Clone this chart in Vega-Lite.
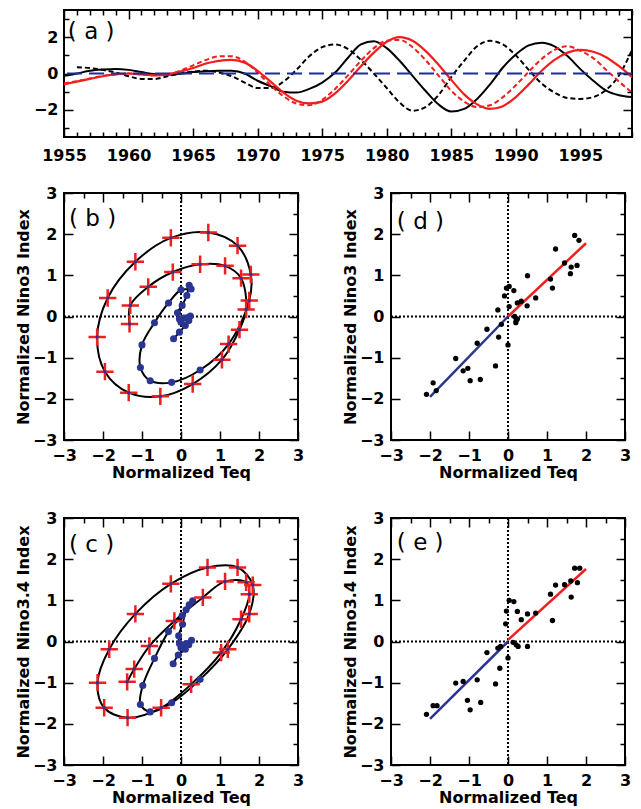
{
  "$schema": "https://vega.github.io/schema/vega-lite/v6.json",
  "background": "white",
  "padding": {"left": 0, "top": 8, "right": 2, "bottom": 2},
  "columns": 1,
  "spacing": 16,
  "align": "none",
  "config": {
    "font": "DejaVu Sans",
    "view": {"stroke": "black", "strokeWidth": 2},
    "axis": {
      "grid": false, "domain": false, "ticks": true, "tickColor": "black", "tickWidth": 1.5,
      "labelFont": "DejaVu Sans", "labelFontSize": 16, "labelFontWeight": "bold", "labelColor": "black",
      "titleFont": "DejaVu Sans", "titleFontSize": 16, "titleFontWeight": "bold", "titleColor": "black",
      "labelOverlap": false, "labelFlush": false, "labelPadding": 16, "minExtent": 1
    },
    "axisLeft": {"minExtent": 63, "titleX": -33}
  },
  "datasets": {
    "ts": [
      {"year": 1955, "teq": -0.13, "teq_dashed": null, "nino3": -0.6, "nino34": -0.55},
      {"year": 1956, "teq": 0.0, "teq_dashed": 0.35, "nino3": -0.45, "nino34": -0.42},
      {"year": 1957, "teq": 0.15, "teq_dashed": 0.3, "nino3": -0.3, "nino34": -0.28},
      {"year": 1958, "teq": 0.22, "teq_dashed": 0.2, "nino3": -0.15, "nino34": -0.13},
      {"year": 1959, "teq": 0.25, "teq_dashed": 0.05, "nino3": -0.05, "nino34": -0.05},
      {"year": 1960, "teq": 0.2, "teq_dashed": -0.15, "nino3": 0.0, "nino34": 0.0},
      {"year": 1961, "teq": 0.08, "teq_dashed": -0.3, "nino3": -0.05, "nino34": -0.05},
      {"year": 1962, "teq": -0.03, "teq_dashed": -0.3, "nino3": -0.1, "nino34": -0.1},
      {"year": 1963, "teq": -0.07, "teq_dashed": -0.15, "nino3": -0.05, "nino34": -0.05},
      {"year": 1964, "teq": -0.02, "teq_dashed": 0.0, "nino3": 0.1, "nino34": 0.15},
      {"year": 1965, "teq": 0.08, "teq_dashed": 0.1, "nino3": 0.3, "nino34": 0.45},
      {"year": 1966, "teq": 0.13, "teq_dashed": 0.15, "nino3": 0.55, "nino34": 0.75},
      {"year": 1967, "teq": 0.15, "teq_dashed": 0.05, "nino3": 0.7, "nino34": 0.95},
      {"year": 1968, "teq": 0.15, "teq_dashed": -0.15, "nino3": 0.75, "nino34": 0.95},
      {"year": 1969, "teq": 0.0, "teq_dashed": -0.5, "nino3": 0.6, "nino34": 0.65},
      {"year": 1970, "teq": -0.4, "teq_dashed": -0.8, "nino3": 0.15, "nino34": 0.05},
      {"year": 1971, "teq": -0.7, "teq_dashed": -0.8, "nino3": -0.45, "nino34": -0.65},
      {"year": 1972, "teq": -1.0, "teq_dashed": -0.45, "nino3": -1.05, "nino34": -1.25},
      {"year": 1973, "teq": -1.05, "teq_dashed": 0.2, "nino3": -1.5, "nino34": -1.65},
      {"year": 1974, "teq": -0.85, "teq_dashed": 0.95, "nino3": -1.65, "nino34": -1.75},
      {"year": 1975, "teq": -0.5, "teq_dashed": 1.45, "nino3": -1.55, "nino34": -1.45},
      {"year": 1976, "teq": 0.05, "teq_dashed": 1.6, "nino3": -1.1, "nino34": -0.85},
      {"year": 1977, "teq": 0.87, "teq_dashed": 1.35, "nino3": -0.4, "nino34": -0.1},
      {"year": 1978, "teq": 1.6, "teq_dashed": 0.75, "nino3": 0.4, "nino34": 0.7},
      {"year": 1979, "teq": 1.78, "teq_dashed": 0.0, "nino3": 1.15, "nino34": 1.4},
      {"year": 1980, "teq": 1.4, "teq_dashed": -0.8, "nino3": 1.75, "nino34": 1.8},
      {"year": 1981, "teq": 0.7, "teq_dashed": -1.6, "nino3": 2.0, "nino34": 1.85},
      {"year": 1982, "teq": -0.13, "teq_dashed": -2.05, "nino3": 1.8, "nino34": 1.45},
      {"year": 1983, "teq": -0.95, "teq_dashed": -1.85, "nino3": 1.25, "nino34": 0.75},
      {"year": 1984, "teq": -1.7, "teq_dashed": -1.2, "nino3": 0.5, "nino34": -0.1},
      {"year": 1985, "teq": -2.1, "teq_dashed": -0.2, "nino3": -0.35, "nino34": -0.95},
      {"year": 1986, "teq": -1.95, "teq_dashed": 0.7, "nino3": -1.15, "nino34": -1.55},
      {"year": 1987, "teq": -1.4, "teq_dashed": 1.5, "nino3": -1.7, "nino34": -1.85},
      {"year": 1988, "teq": -0.6, "teq_dashed": 1.8, "nino3": -1.95, "nino34": -1.75},
      {"year": 1989, "teq": 0.33, "teq_dashed": 1.6, "nino3": -1.8, "nino34": -1.3},
      {"year": 1990, "teq": 1.05, "teq_dashed": 1.0, "nino3": -1.3, "nino34": -0.65},
      {"year": 1991, "teq": 1.55, "teq_dashed": 0.2, "nino3": -0.6, "nino34": 0.1},
      {"year": 1992, "teq": 1.7, "teq_dashed": -0.55, "nino3": 0.15, "nino34": 0.8},
      {"year": 1993, "teq": 1.5, "teq_dashed": -1.05, "nino3": 0.75, "nino34": 1.3},
      {"year": 1994, "teq": 0.96, "teq_dashed": -1.35, "nino3": 1.15, "nino34": 1.5},
      {"year": 1995, "teq": 0.24, "teq_dashed": -1.4, "nino3": 1.3, "nino34": 1.25},
      {"year": 1996, "teq": -0.4, "teq_dashed": -1.3, "nino3": 1.2, "nino34": 0.85},
      {"year": 1997, "teq": -0.95, "teq_dashed": -0.9, "nino3": 0.9, "nino34": 0.2},
      {"year": 1998, "teq": -1.2, "teq_dashed": -0.1, "nino3": 0.4, "nino34": -0.45},
      {"year": 1999, "teq": -1.3, "teq_dashed": 1.3, "nino3": -0.2, "nino34": -1.05}
    ],
    "b": [
      {"year": 1955, "teq": -0.19, "nino3": -0.54}, {"year": 1956, "teq": -0.04, "nino3": -0.38},
      {"year": 1957, "teq": 0.11, "nino3": -0.22}, {"year": 1958, "teq": 0.2, "nino3": -0.1},
      {"year": 1959, "teq": 0.24, "nino3": 0.01}, {"year": 1960, "teq": 0.15, "nino3": -0.03},
      {"year": 1961, "teq": 0.07, "nino3": -0.04}, {"year": 1962, "teq": 0.0, "nino3": -0.14},
      {"year": 1963, "teq": -0.04, "nino3": -0.06}, {"year": 1964, "teq": -0.09, "nino3": 0.09},
      {"year": 1965, "teq": 0.03, "nino3": 0.27}, {"year": 1966, "teq": 0.15, "nino3": 0.51},
      {"year": 1967, "teq": 0.21, "nino3": 0.76}, {"year": 1968, "teq": 0.26, "nino3": 0.67},
      {"year": 1969, "teq": 0.0, "nino3": 0.65}, {"year": 1970, "teq": -0.32, "nino3": 0.33},
      {"year": 1971, "teq": -0.68, "nino3": -0.15}, {"year": 1972, "teq": -1.0, "nino3": -0.69},
      {"year": 1973, "teq": -1.04, "nino3": -1.24}, {"year": 1974, "teq": -0.79, "nino3": -1.56},
      {"year": 1975, "teq": -0.24, "nino3": -1.6}, {"year": 1976, "teq": 0.49, "nino3": -1.3},
      {"year": 1977, "teq": 1.22, "nino3": -0.67}, {"year": 1978, "teq": 1.75, "nino3": 0.39},
      {"year": 1979, "teq": 1.79, "nino3": 1.02}, {"year": 1980, "teq": 1.45, "nino3": 1.72},
      {"year": 1981, "teq": 0.7, "nino3": 2.04}, {"year": 1982, "teq": -0.26, "nino3": 1.91},
      {"year": 1983, "teq": -1.17, "nino3": 1.33}, {"year": 1984, "teq": -1.88, "nino3": 0.45},
      {"year": 1985, "teq": -2.15, "nino3": -0.5}, {"year": 1986, "teq": -1.95, "nino3": -1.34},
      {"year": 1987, "teq": -1.34, "nino3": -1.85}, {"year": 1988, "teq": -0.53, "nino3": -1.94},
      {"year": 1989, "teq": 0.3, "nino3": -1.64}, {"year": 1990, "teq": 1.05, "nino3": -1.05},
      {"year": 1991, "teq": 1.5, "nino3": -0.32}, {"year": 1992, "teq": 1.67, "nino3": 0.17},
      {"year": 1993, "teq": 1.54, "nino3": 0.93}, {"year": 1994, "teq": 1.13, "nino3": 1.23},
      {"year": 1995, "teq": 0.49, "nino3": 1.27}, {"year": 1996, "teq": -0.21, "nino3": 1.08},
      {"year": 1997, "teq": -0.84, "nino3": 0.72}, {"year": 1998, "teq": -1.3, "nino3": 0.27},
      {"year": 1999, "teq": -1.32, "nino3": -0.18}
    ],
    "c": [
      {"year": 1955, "teq": -0.2, "nino34": -0.54}, {"year": 1956, "teq": -0.07, "nino34": -0.33},
      {"year": 1957, "teq": 0.11, "nino34": -0.19}, {"year": 1958, "teq": 0.2, "nino34": -0.08},
      {"year": 1959, "teq": 0.27, "nino34": 0.03}, {"year": 1960, "teq": 0.15, "nino34": -0.05},
      {"year": 1961, "teq": 0.07, "nino34": -0.08}, {"year": 1962, "teq": 0.0, "nino34": -0.15},
      {"year": 1963, "teq": -0.04, "nino34": -0.05}, {"year": 1964, "teq": -0.06, "nino34": 0.14},
      {"year": 1965, "teq": 0.04, "nino34": 0.42}, {"year": 1966, "teq": 0.13, "nino34": 0.77},
      {"year": 1967, "teq": 0.21, "nino34": 0.89}, {"year": 1968, "teq": 0.3, "nino34": 0.99},
      {"year": 1969, "teq": 0.03, "nino34": 0.63}, {"year": 1970, "teq": -0.32, "nino34": 0.24},
      {"year": 1971, "teq": -0.68, "nino34": -0.41}, {"year": 1972, "teq": -0.98, "nino34": -1.07},
      {"year": 1973, "teq": -1.04, "nino34": -1.53}, {"year": 1974, "teq": -0.79, "nino34": -1.71},
      {"year": 1975, "teq": -0.24, "nino34": -1.49}, {"year": 1976, "teq": 0.49, "nino34": -0.92},
      {"year": 1977, "teq": 1.2, "nino34": -0.19}, {"year": 1978, "teq": 1.75, "nino34": 0.67},
      {"year": 1979, "teq": 1.84, "nino34": 1.37}, {"year": 1980, "teq": 1.45, "nino34": 1.8},
      {"year": 1981, "teq": 0.68, "nino34": 1.8}, {"year": 1982, "teq": -0.26, "nino34": 1.4},
      {"year": 1983, "teq": -1.17, "nino34": 0.67}, {"year": 1984, "teq": -1.84, "nino34": -0.19},
      {"year": 1985, "teq": -2.14, "nino34": -1.0}, {"year": 1986, "teq": -1.97, "nino34": -1.61},
      {"year": 1987, "teq": -1.37, "nino34": -1.85}, {"year": 1988, "teq": -0.51, "nino34": -1.61},
      {"year": 1989, "teq": 0.26, "nino34": -1.04}, {"year": 1990, "teq": 1.03, "nino34": -0.27},
      {"year": 1991, "teq": 1.54, "nino34": 0.54}, {"year": 1992, "teq": 1.75, "nino34": 1.15},
      {"year": 1993, "teq": 1.67, "nino34": 1.44}, {"year": 1994, "teq": 1.13, "nino34": 1.46},
      {"year": 1995, "teq": 0.56, "nino34": 1.07}, {"year": 1996, "teq": -0.17, "nino34": 0.5},
      {"year": 1997, "teq": -0.81, "nino34": -0.11}, {"year": 1998, "teq": -1.2, "nino34": -0.67},
      {"year": 1999, "teq": -1.38, "nino34": -0.98}
    ],
    "d": [
      {"teq": 1.71, "nino": 1.97}, {"teq": 1.82, "nino": 1.85}, {"teq": 1.22, "nino": 1.64}, {"teq": 1.45, "nino": 1.3},
      {"teq": 1.62, "nino": 1.2}, {"teq": 1.77, "nino": 1.24}, {"teq": 1.6, "nino": 1.04}, {"teq": 0.5, "nino": 0.99},
      {"teq": 1.09, "nino": 0.91}, {"teq": 1.14, "nino": 0.69}, {"teq": 0.71, "nino": 0.45}, {"teq": 0.49, "nino": 0.26},
      {"teq": 0.34, "nino": 0.37}, {"teq": 0.24, "nino": 0.33}, {"teq": 0.15, "nino": 0.63}, {"teq": -0.04, "nino": 0.69},
      {"teq": 0.03, "nino": 0.73}, {"teq": -0.09, "nino": 0.5}, {"teq": 0.03, "nino": 0.24}, {"teq": 0.17, "nino": 0.0},
      {"teq": 0.21, "nino": -0.1}, {"teq": 0.24, "nino": -0.06}, {"teq": 0.2, "nino": -0.15}, {"teq": -0.26, "nino": 0.16},
      {"teq": -0.17, "nino": -0.19}, {"teq": -0.24, "nino": -0.5}, {"teq": -0.54, "nino": -0.31}, {"teq": -0.79, "nino": -0.65},
      {"teq": 0.0, "nino": -0.69}, {"teq": -1.34, "nino": -1.02}, {"teq": -1.15, "nino": -1.32}, {"teq": -1.03, "nino": -1.26},
      {"teq": -0.97, "nino": -1.56}, {"teq": -0.71, "nino": -1.53}, {"teq": -0.32, "nino": -1.2}, {"teq": -1.92, "nino": -1.61},
      {"teq": -1.84, "nino": -1.8}, {"teq": -2.09, "nino": -1.89}
    ],
    "e": [
      {"teq": 1.71, "nino": 1.78}, {"teq": 1.84, "nino": 1.78}, {"teq": 1.78, "nino": 1.43}, {"teq": 1.61, "nino": 1.47},
      {"teq": 1.45, "nino": 1.38}, {"teq": 1.22, "nino": 1.37}, {"teq": 1.09, "nino": 1.15}, {"teq": 1.62, "nino": 1.08},
      {"teq": 1.14, "nino": 0.51}, {"teq": 0.71, "nino": 0.69}, {"teq": 0.5, "nino": 0.67}, {"teq": 0.24, "nino": 0.73},
      {"teq": 0.34, "nino": 0.53}, {"teq": 0.15, "nino": 0.97}, {"teq": 0.03, "nino": 1.0}, {"teq": -0.04, "nino": 0.74},
      {"teq": -0.06, "nino": 0.43}, {"teq": 0.13, "nino": -0.02}, {"teq": 0.21, "nino": -0.08}, {"teq": 0.26, "nino": -0.12},
      {"teq": 0.5, "nino": -0.12}, {"teq": -0.26, "nino": -0.16}, {"teq": -0.19, "nino": -0.12}, {"teq": -0.54, "nino": -0.27},
      {"teq": 0.0, "nino": -0.4}, {"teq": -0.21, "nino": -0.65}, {"teq": -0.32, "nino": -1.03}, {"teq": -0.79, "nino": -0.93},
      {"teq": -0.7, "nino": -1.48}, {"teq": -1.34, "nino": -1.01}, {"teq": -1.15, "nino": -0.97}, {"teq": -1.04, "nino": -1.43},
      {"teq": -0.97, "nino": -1.66}, {"teq": -1.92, "nino": -1.56}, {"teq": -1.82, "nino": -1.56}, {"teq": -2.09, "nino": -1.77}
    ],
    "fit_d": [
      {"side": "neg", "teq": -2, "nino": -1.95}, {"side": "neg", "teq": 0, "nino": 0},
      {"side": "pos", "teq": 0, "nino": 0}, {"side": "pos", "teq": 2, "nino": 1.78}
    ],
    "fit_e": [
      {"side": "neg", "teq": -2, "nino": -1.88}, {"side": "neg", "teq": 0, "nino": 0},
      {"side": "pos", "teq": 0, "nino": 0.04}, {"side": "pos", "teq": 2, "nino": 1.76}
    ],
    "zero": [{"v": 0}]
  },
  "concat": [
    {
      "width": 568, "height": 127,
      "data": {"name": "ts"},
      "layer": [
        {
          "mark": {"type": "line", "color": "black", "strokeWidth": 2, "strokeDash": [5, 3], "interpolate": "monotone"},
          "encoding": {
            "x": {"field": "year", "type": "quantitative", "scale": {"domain": [1955, 1999], "nice": false, "zero": false},
                  "axis": {"orient": "top", "values": [1955,1956,1957,1958,1959,1960,1961,1962,1963,1964,1965,1966,1967,1968,1969,1970,1971,1972,1973,1974,1975,1976,1977,1978,1979,1980,1981,1982,1983,1984,1985,1986,1987,1988,1989,1990,1991,1992,1993,1994,1995,1996,1997,1998,1999],
                           "labels": false, "title": null, "tickSize": {"condition": {"test": "datum.value % 5 == 0", "value": -9}, "value": -5}}},
            "y": {"field": "teq_dashed", "type": "quantitative", "scale": {"domain": [-3.5, 3.5], "nice": false},
                  "axis": {"orient": "right", "values": [-3,-2,-1,0,1,2,3], "labels": false, "title": null, "tickSize": {"condition": {"test": "datum.value % 2 == 0", "value": -9}, "value": -5}}}
          }
        },
        {
          "mark": {"type": "line", "color": "black", "strokeWidth": 2, "interpolate": "monotone"},
          "encoding": {
            "x": {"field": "year", "type": "quantitative", "scale": {"domain": [1955, 1999], "nice": false, "zero": false},
                  "axis": {"orient": "bottom", "values": [1955,1956,1957,1958,1959,1960,1961,1962,1963,1964,1965,1966,1967,1968,1969,1970,1971,1972,1973,1974,1975,1976,1977,1978,1979,1980,1981,1982,1983,1984,1985,1986,1987,1988,1989,1990,1991,1992,1993,1994,1995,1996,1997,1998,1999],
                           "format": "d", "labelExpr": "datum.value % 5 == 0 ? datum.label : ''", "title": null, "labelPadding": 19,
                           "tickSize": {"condition": {"test": "datum.value % 5 == 0", "value": -9}, "value": -5}}},
            "y": {"field": "teq", "type": "quantitative", "scale": {"domain": [-3.5, 3.5], "nice": false},
                  "axis": {"orient": "left", "minExtent": 41, "labelPadding": 15, "values": [-3,-2,-1,0,1,2,3], "format": "d", "labelExpr": "datum.value % 2 == 0 ? datum.label : ''", "title": null,
                           "tickSize": {"condition": {"test": "datum.value % 2 == 0", "value": -9}, "value": -5}}}
          }
        },
        {
          "mark": {"type": "line", "color": "#f01e1e", "strokeWidth": 2, "strokeDash": [5, 3], "interpolate": "monotone"},
          "encoding": {
            "x": {"field": "year", "type": "quantitative", "axis": null},
            "y": {"field": "nino34", "type": "quantitative", "axis": null}
          }
        },
        {
          "mark": {"type": "line", "color": "#f01e1e", "strokeWidth": 2.2, "interpolate": "monotone"},
          "encoding": {
            "x": {"field": "year", "type": "quantitative", "axis": null},
            "y": {"field": "nino3", "type": "quantitative", "axis": null}
          }
        },
        {
          "data": {"name": "zero"},
          "mark": {"type": "rule", "color": "#1f2d9b", "strokeWidth": 2, "strokeDash": [15, 7]},
          "encoding": {"y": {"field": "v", "type": "quantitative", "axis": null}}
        },
        {
          "data": {"values": [{"label": "( a )"}]},
          "mark": {"type": "text", "align": "left", "baseline": "middle", "fontSize": 23, "font": "DejaVu Sans", "color": "black"},
          "encoding": {
            "x": {"datum": 1955.3, "type": "quantitative", "axis": null},
            "y": {"datum": 2.28, "type": "quantitative", "axis": null},
            "text": {"field": "label"}
          }
        }
      ],
      "resolve": {"axis": {"x": "independent", "y": "independent"}}
    },
    {
      "spacing": 28,
      "vconcat": [
        {
          "spacing": 22,
          "hconcat": [
            {
              "width": 234, "height": 247,
              "layer": [
                {"data": {"name": "zero"}, "mark": {"type": "rule", "color": "black", "strokeWidth": 2, "strokeDash": [2, 2]},
                 "encoding": {"x": {"field": "v", "type": "quantitative", "scale": {"domain": [-3, 3], "nice": false},
                   "axis": {"orient": "top", "values": [-3,-2.5,-2,-1.5,-1,-0.5,0,0.5,1,1.5,2,2.5,3], "labels": false, "title": null, "tickSize": {"condition": {"test": "datum.value % 1 == 0", "value": -9}, "value": -5}}}}},
                {"data": {"name": "zero"}, "mark": {"type": "rule", "color": "black", "strokeWidth": 2, "strokeDash": [2, 2]},
                 "encoding": {"y": {"field": "v", "type": "quantitative", "scale": {"domain": [-3, 3], "nice": false},
                   "axis": {"orient": "right", "values": [-3,-2.5,-2,-1.5,-1,-0.5,0,0.5,1,1.5,2,2.5,3], "labels": false, "title": null, "tickSize": {"condition": {"test": "datum.value % 1 == 0", "value": -9}, "value": -5}}}}},
                {"data": {"name": "b"}, "mark": {"type": "line", "color": "black", "strokeWidth": 2, "interpolate": "catmull-rom"},
                 "encoding": {
                   "x": {"field": "teq", "type": "quantitative", "scale": {"domain": [-3, 3], "nice": false},
                     "axis": {"orient": "bottom", "values": [-3,-2.5,-2,-1.5,-1,-0.5,0,0.5,1,1.5,2,2.5,3], "format": "d", "labelExpr": "datum.value % 1 == 0 ? datum.label : ''", "title": "Normalized Teq", "titlePadding": 1, "tickSize": {"condition": {"test": "datum.value % 1 == 0", "value": -9}, "value": -5}}},
                   "y": {"field": "nino3", "type": "quantitative", "scale": {"domain": [-3, 3], "nice": false},
                     "axis": {"orient": "left", "values": [-3,-2.5,-2,-1.5,-1,-0.5,0,0.5,1,1.5,2,2.5,3], "format": "d", "labelExpr": "datum.value % 1 == 0 ? datum.label : ''", "title": "Normalized Nino3 Index", "tickSize": {"condition": {"test": "datum.value % 1 == 0", "value": -9}, "value": -5}}},
                   "order": {"field": "year", "type": "quantitative"}}},
                {"data": {"name": "b"}, "transform": [{"filter": "datum.year <= 1976"}],
                 "mark": {"type": "circle", "color": "#2a3593", "size": 50, "opacity": 1},
                 "encoding": {"x": {"field": "teq", "type": "quantitative", "axis": null}, "y": {"field": "nino3", "type": "quantitative", "axis": null}}},
                {"data": {"name": "b"}, "transform": [{"filter": "datum.year >= 1977"}],
                 "mark": {"type": "point", "shape": "M-1,0L1,0M0,-1L0,1", "size": 300, "stroke": "#f01e1e", "strokeWidth": 2.5, "filled": false, "opacity": 1},
                 "encoding": {"x": {"field": "teq", "type": "quantitative", "axis": null}, "y": {"field": "nino3", "type": "quantitative", "axis": null}}},
                {"data": {"name": "b"}, "transform": [{"filter": "datum.year >= 1977"}],
                 "mark": {"type": "circle", "color": "#2a3593", "size": 12, "opacity": 1},
                 "encoding": {"x": {"field": "teq", "type": "quantitative", "axis": null}, "y": {"field": "nino3", "type": "quantitative", "axis": null}}},
                {"data": {"values": [{"label": "( b )"}]},
                 "mark": {"type": "text", "align": "left", "baseline": "middle", "fontSize": 23, "font": "DejaVu Sans", "color": "black"},
                 "encoding": {"x": {"datum": -2.87, "type": "quantitative", "axis": null}, "y": {"datum": 2.37, "type": "quantitative", "axis": null}, "text": {"field": "label"}}}
              ],
              "resolve": {"axis": {"x": "independent", "y": "independent"}}
            },
            {
              "width": 234, "height": 247,
              "layer": [
                {"data": {"name": "zero"}, "mark": {"type": "rule", "color": "black", "strokeWidth": 2, "strokeDash": [2, 2]},
                 "encoding": {"x": {"field": "v", "type": "quantitative", "scale": {"domain": [-3, 3], "nice": false},
                   "axis": {"orient": "top", "values": [-3,-2.5,-2,-1.5,-1,-0.5,0,0.5,1,1.5,2,2.5,3], "labels": false, "title": null, "tickSize": {"condition": {"test": "datum.value % 1 == 0", "value": -9}, "value": -5}}}}},
                {"data": {"name": "zero"}, "mark": {"type": "rule", "color": "black", "strokeWidth": 2, "strokeDash": [2, 2]},
                 "encoding": {"y": {"field": "v", "type": "quantitative", "scale": {"domain": [-3, 3], "nice": false},
                   "axis": {"orient": "right", "values": [-3,-2.5,-2,-1.5,-1,-0.5,0,0.5,1,1.5,2,2.5,3], "labels": false, "title": null, "tickSize": {"condition": {"test": "datum.value % 1 == 0", "value": -9}, "value": -5}}}}},
                {"data": {"name": "fit_d"}, "mark": {"type": "line", "strokeWidth": 2.5},
                 "encoding": {
                   "x": {"field": "teq", "type": "quantitative", "scale": {"domain": [-3, 3], "nice": false},
                     "axis": {"orient": "bottom", "values": [-3,-2.5,-2,-1.5,-1,-0.5,0,0.5,1,1.5,2,2.5,3], "format": "d", "labelExpr": "datum.value % 1 == 0 ? datum.label : ''", "title": "Normalized Teq", "titlePadding": 1, "tickSize": {"condition": {"test": "datum.value % 1 == 0", "value": -9}, "value": -5}}},
                   "y": {"field": "nino", "type": "quantitative", "scale": {"domain": [-3, 3], "nice": false},
                     "axis": {"orient": "left", "values": [-3,-2.5,-2,-1.5,-1,-0.5,0,0.5,1,1.5,2,2.5,3], "format": "d", "labelExpr": "datum.value % 1 == 0 ? datum.label : ''", "title": "Normalized Nino3 Index", "tickSize": {"condition": {"test": "datum.value % 1 == 0", "value": -9}, "value": -5}}},
                   "color": {"field": "side", "type": "nominal", "scale": {"domain": ["neg", "pos"], "range": ["#2a3593", "#f01e1e"]}, "legend": null}}},
                {"data": {"name": "d"}, "mark": {"type": "circle", "color": "black", "size": 28, "opacity": 1},
                 "encoding": {"x": {"field": "teq", "type": "quantitative", "axis": null}, "y": {"field": "nino", "type": "quantitative", "axis": null}}},
                {"data": {"values": [{"label": "( d )"}]},
                 "mark": {"type": "text", "align": "left", "baseline": "middle", "fontSize": 23, "font": "DejaVu Sans", "color": "black"},
                 "encoding": {"x": {"datum": -2.85, "type": "quantitative", "axis": null}, "y": {"datum": 2.29, "type": "quantitative", "axis": null}, "text": {"field": "label"}}}
              ],
              "resolve": {"axis": {"x": "independent", "y": "independent"}}
            }
          ]
        },
        {
          "spacing": 22,
          "hconcat": [
            {
              "width": 234, "height": 247,
              "layer": [
                {"data": {"name": "zero"}, "mark": {"type": "rule", "color": "black", "strokeWidth": 2, "strokeDash": [2, 2]},
                 "encoding": {"x": {"field": "v", "type": "quantitative", "scale": {"domain": [-3, 3], "nice": false},
                   "axis": {"orient": "top", "values": [-3,-2.5,-2,-1.5,-1,-0.5,0,0.5,1,1.5,2,2.5,3], "labels": false, "title": null, "tickSize": {"condition": {"test": "datum.value % 1 == 0", "value": -9}, "value": -5}}}}},
                {"data": {"name": "zero"}, "mark": {"type": "rule", "color": "black", "strokeWidth": 2, "strokeDash": [2, 2]},
                 "encoding": {"y": {"field": "v", "type": "quantitative", "scale": {"domain": [-3, 3], "nice": false},
                   "axis": {"orient": "right", "values": [-3,-2.5,-2,-1.5,-1,-0.5,0,0.5,1,1.5,2,2.5,3], "labels": false, "title": null, "tickSize": {"condition": {"test": "datum.value % 1 == 0", "value": -9}, "value": -5}}}}},
                {"data": {"name": "c"}, "mark": {"type": "line", "color": "black", "strokeWidth": 2, "interpolate": "catmull-rom"},
                 "encoding": {
                   "x": {"field": "teq", "type": "quantitative", "scale": {"domain": [-3, 3], "nice": false},
                     "axis": {"orient": "bottom", "values": [-3,-2.5,-2,-1.5,-1,-0.5,0,0.5,1,1.5,2,2.5,3], "format": "d", "labelExpr": "datum.value % 1 == 0 ? datum.label : ''", "title": "Normalized Teq", "titlePadding": 1, "tickSize": {"condition": {"test": "datum.value % 1 == 0", "value": -9}, "value": -5}}},
                   "y": {"field": "nino34", "type": "quantitative", "scale": {"domain": [-3, 3], "nice": false},
                     "axis": {"orient": "left", "values": [-3,-2.5,-2,-1.5,-1,-0.5,0,0.5,1,1.5,2,2.5,3], "format": "d", "labelExpr": "datum.value % 1 == 0 ? datum.label : ''", "title": "Normalized Nino3.4 Index", "tickSize": {"condition": {"test": "datum.value % 1 == 0", "value": -9}, "value": -5}}},
                   "order": {"field": "year", "type": "quantitative"}}},
                {"data": {"name": "c"}, "transform": [{"filter": "datum.year <= 1976"}],
                 "mark": {"type": "circle", "color": "#2a3593", "size": 50, "opacity": 1},
                 "encoding": {"x": {"field": "teq", "type": "quantitative", "axis": null}, "y": {"field": "nino34", "type": "quantitative", "axis": null}}},
                {"data": {"name": "c"}, "transform": [{"filter": "datum.year >= 1977"}],
                 "mark": {"type": "point", "shape": "M-1,0L1,0M0,-1L0,1", "size": 300, "stroke": "#f01e1e", "strokeWidth": 2.5, "filled": false, "opacity": 1},
                 "encoding": {"x": {"field": "teq", "type": "quantitative", "axis": null}, "y": {"field": "nino34", "type": "quantitative", "axis": null}}},
                {"data": {"name": "c"}, "transform": [{"filter": "datum.year >= 1977"}],
                 "mark": {"type": "circle", "color": "#2a3593", "size": 12, "opacity": 1},
                 "encoding": {"x": {"field": "teq", "type": "quantitative", "axis": null}, "y": {"field": "nino34", "type": "quantitative", "axis": null}}},
                {"data": {"values": [{"label": "( c )"}]},
                 "mark": {"type": "text", "align": "left", "baseline": "middle", "fontSize": 23, "font": "DejaVu Sans", "color": "black"},
                 "encoding": {"x": {"datum": -2.87, "type": "quantitative", "axis": null}, "y": {"datum": 2.34, "type": "quantitative", "axis": null}, "text": {"field": "label"}}}
              ],
              "resolve": {"axis": {"x": "independent", "y": "independent"}}
            },
            {
              "width": 234, "height": 247,
              "layer": [
                {"data": {"name": "zero"}, "mark": {"type": "rule", "color": "black", "strokeWidth": 2, "strokeDash": [2, 2]},
                 "encoding": {"x": {"field": "v", "type": "quantitative", "scale": {"domain": [-3, 3], "nice": false},
                   "axis": {"orient": "top", "values": [-3,-2.5,-2,-1.5,-1,-0.5,0,0.5,1,1.5,2,2.5,3], "labels": false, "title": null, "tickSize": {"condition": {"test": "datum.value % 1 == 0", "value": -9}, "value": -5}}}}},
                {"data": {"name": "zero"}, "mark": {"type": "rule", "color": "black", "strokeWidth": 2, "strokeDash": [2, 2]},
                 "encoding": {"y": {"field": "v", "type": "quantitative", "scale": {"domain": [-3, 3], "nice": false},
                   "axis": {"orient": "right", "values": [-3,-2.5,-2,-1.5,-1,-0.5,0,0.5,1,1.5,2,2.5,3], "labels": false, "title": null, "tickSize": {"condition": {"test": "datum.value % 1 == 0", "value": -9}, "value": -5}}}}},
                {"data": {"name": "fit_e"}, "mark": {"type": "line", "strokeWidth": 2.5},
                 "encoding": {
                   "x": {"field": "teq", "type": "quantitative", "scale": {"domain": [-3, 3], "nice": false},
                     "axis": {"orient": "bottom", "values": [-3,-2.5,-2,-1.5,-1,-0.5,0,0.5,1,1.5,2,2.5,3], "format": "d", "labelExpr": "datum.value % 1 == 0 ? datum.label : ''", "title": "Normalized Teq", "titlePadding": 1, "tickSize": {"condition": {"test": "datum.value % 1 == 0", "value": -9}, "value": -5}}},
                   "y": {"field": "nino", "type": "quantitative", "scale": {"domain": [-3, 3], "nice": false},
                     "axis": {"orient": "left", "values": [-3,-2.5,-2,-1.5,-1,-0.5,0,0.5,1,1.5,2,2.5,3], "format": "d", "labelExpr": "datum.value % 1 == 0 ? datum.label : ''", "title": "Normalized Nino3.4 Index", "tickSize": {"condition": {"test": "datum.value % 1 == 0", "value": -9}, "value": -5}}},
                   "color": {"field": "side", "type": "nominal", "scale": {"domain": ["neg", "pos"], "range": ["#2a3593", "#f01e1e"]}, "legend": null}}},
                {"data": {"name": "e"}, "mark": {"type": "circle", "color": "black", "size": 28, "opacity": 1},
                 "encoding": {"x": {"field": "teq", "type": "quantitative", "axis": null}, "y": {"field": "nino", "type": "quantitative", "axis": null}}},
                {"data": {"values": [{"label": "( e )"}]},
                 "mark": {"type": "text", "align": "left", "baseline": "middle", "fontSize": 23, "font": "DejaVu Sans", "color": "black"},
                 "encoding": {"x": {"datum": -2.85, "type": "quantitative", "axis": null}, "y": {"datum": 2.39, "type": "quantitative", "axis": null}, "text": {"field": "label"}}}
              ],
              "resolve": {"axis": {"x": "independent", "y": "independent"}}
            }
          ]
        }
      ]
    }
  ]
}
